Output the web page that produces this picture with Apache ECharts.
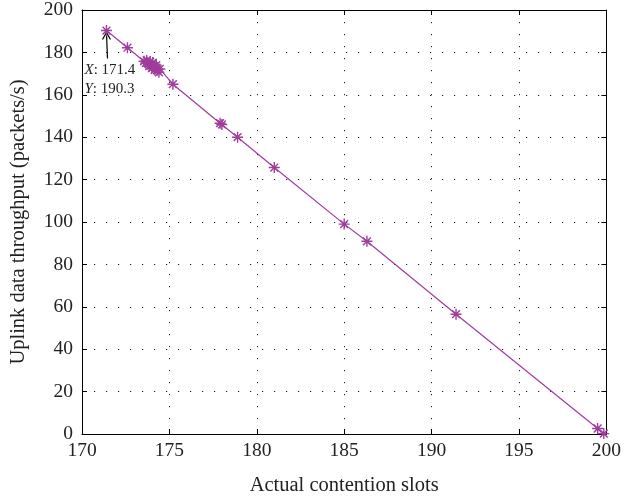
<!DOCTYPE html>
<html><head><meta charset="utf-8">
<script src="https://cdn.jsdelivr.net/npm/echarts@6/dist/echarts.min.js"></script>
<style>html,body{margin:0;padding:0;background:#fff}#c{width:624px;height:501px}</style>
</head><body><div id="c"></div>
<script>
const contentionSlots = [171.4, 172.6, 173.55, 173.65, 173.7, 173.8, 173.85, 173.9, 173.95, 174.0, 174.0, 174.05, 174.1, 174.15, 174.2, 174.25, 174.3, 174.4, 174.45, 175.2, 177.9, 178.0, 178.9, 181.0, 185.0, 186.3, 191.4, 199.5, 199.85];
const throughput     = [190.3, 182.2, 175.8, 175.0, 176.2, 174.6, 173.5, 175.6, 173.8, 174.4, 172.6, 175.2, 173.5, 171.8, 172.4, 174.0, 171.6, 170.6, 172.2, 165.0, 146.6, 146.0, 140.0, 125.7, 99.0, 90.9, 56.5, 2.6, 0.2];
const xTickValues = [170, 175, 180, 185, 190, 195, 200];
const yTickValues = [0, 20, 40, 60, 80, 100, 120, 140, 160, 180, 200];
const tipPoint = [171.4, 190.3];
const xTitle = 'Actual contention slots';
const yTitle = 'Uplink data throughput (packets/s)';

const FONT = 'Liberation Serif';
const PURPLE = '#a03c9c';
const starPath = 'path://M5,0L5,10M0,5L10,5M1.46,1.46L8.54,8.54M1.46,8.54L8.54,1.46';

const chart = echarts.init(document.getElementById('c'), null, {renderer: 'canvas'});
const gridLine = {show: true, lineStyle: {color: '#222', width: 1, type: [1.2, 10.8]}};
const axisLineS = {show: true, onZero: false, lineStyle: {color: '#000', width: 1}};
const tickS = {show: true, inside: true, length: 5, lineStyle: {color: '#000'}};
chart.setOption({
  animation: false,
  backgroundColor: '#fff',
  grid: {left: 81, right: 17, top: 8, bottom: 64, containLabel: false},
  xAxis: [{
    type: 'value', min: xTickValues[0], max: xTickValues[xTickValues.length - 1], interval: 5,
    axisLine: axisLineS, axisTick: tickS, splitLine: gridLine,
    axisLabel: {color: '#222', fontFamily: FONT, fontSize: 19.5, margin: 7},
    name: xTitle, nameLocation: 'middle', nameGap: 41,
    nameTextStyle: {color: '#222', fontFamily: FONT, fontSize: 20.5}
  }, {
    type: 'value', position: 'top', min: xTickValues[0], max: xTickValues[xTickValues.length - 1], interval: 5,
    axisLine: axisLineS, axisTick: tickS, axisLabel: {show: false}, splitLine: {show: false}
  }],
  yAxis: [{
    type: 'value', min: yTickValues[0], max: yTickValues[yTickValues.length - 1], interval: 20,
    axisLine: axisLineS, axisTick: tickS, splitLine: gridLine,
    axisLabel: {color: '#222', fontFamily: FONT, fontSize: 19.5, margin: 9},
    name: yTitle, nameLocation: 'middle', nameGap: 53,
    nameTextStyle: {color: '#222', fontFamily: FONT, fontSize: 20.5}
  }, {
    type: 'value', position: 'right', min: yTickValues[0], max: yTickValues[yTickValues.length - 1], interval: 20,
    axisLine: axisLineS, axisTick: tickS, axisLabel: {show: false}, splitLine: {show: false}
  }],
  series: [{
    type: 'line',
    data: contentionSlots.map((x, i) => [x, throughput[i]]),
    lineStyle: {color: PURPLE, width: 1.2},
    symbol: starPath, symbolSize: 11, showAllSymbol: true,
    itemStyle: {color: 'none', borderColor: PURPLE, borderWidth: 1.4},
    emphasis: {disabled: true}
  }]
});

const p = chart.convertToPixel({xAxisIndex: 0, yAxisIndex: 0}, tipPoint);
chart.setOption({
  graphic: [
    {type: 'line', shape: {x1: p[0], y1: p[1] + 2, x2: p[0] + 1, y2: p[1] + 28}, style: {stroke: '#000', lineWidth: 1.2}},
    {type: 'polyline', shape: {points: [[p[0] - 4, p[1] + 9], [p[0], p[1] + 2], [p[0] + 4, p[1] + 9]]}, style: {stroke: '#000', lineWidth: 1.2, fill: null}},
    {type: 'text', x: p[0] - 22, y: p[1] + 30, style: {
      text: '{i|X}: ' + tipPoint[0].toFixed(1) + '\n{i|Y}: ' + tipPoint[1].toFixed(1),
      font: '15px ' + FONT, fill: '#222', lineHeight: 19,
      rich: {i: {fontStyle: 'italic', fontFamily: FONT, fontSize: 15, fill: '#222'}}
    }}
  ]
});
</script></body></html>
